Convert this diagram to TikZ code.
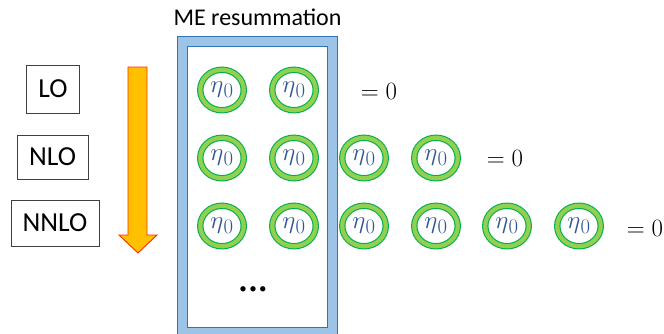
\documentclass[tikz,border=0pt]{standalone}
\usepackage{fontspec}
\setmainfont{Carlito}
\usetikzlibrary{shapes.geometric}
\definecolor{frameblue}{HTML}{9DC3E6}
\definecolor{edgeblue}{HTML}{2E75B6}
\definecolor{ringlight}{HTML}{92D050}
\definecolor{ringdark}{HTML}{00B050}
\definecolor{etablue}{HTML}{2F5597}
\definecolor{arroworange}{HTML}{FFC000}
\definecolor{arrowred}{HTML}{FF2A00}
\begin{document}
\begin{tikzpicture}[x=1pt,y=-1pt,
  lab/.style={draw=black!75,line width=0.8pt,inner sep=0pt,font=\fontsize{27.5}{27.5}\selectfont},
  ring/.style={ellipse,draw=ringdark,line width=1.1pt,double=ringlight,double distance=4.2pt,
    fill=white,minimum width=43.5pt,minimum height=40.5pt,inner sep=0pt,
    text=etablue,font=\fontsize{29}{29}\selectfont},
  zero/.style={inner sep=0pt,font=\fontsize{24}{24}\selectfont},
  title/.style={inner sep=0pt,font=\fontsize{24}{24}\selectfont}]
\clip (0,0) rectangle (664,333);
\fill[white] (0,0) rectangle (664,333);
% frame
\draw[edgeblue,fill=frameblue,line width=1pt] (177,36) rectangle (337,345);
\draw[edgeblue,fill=white,line width=1pt] (187,46) rectangle (327,327);
\node[title,anchor=base] (title) at (257.5,25) {ME resummation};
% order labels
\node[lab,minimum width=52.5pt,minimum height=48pt] (lo) at (53,89) {LO};
\node[lab,minimum width=71pt,minimum height=44pt] (nlo) at (52.5,157) {NLO};
\node[lab,minimum width=88pt,minimum height=46pt] (nnlo) at (55,223) {NNLO};
% block arrow
\draw[arrowred,fill=arroworange,line width=0.9pt,line join=miter]
  (128,67) -- (147,67) -- (147,235) -- (157,235) -- (138,253) -- (119,235) -- (128,235) -- cycle;
% rings
\foreach \r/\y/\n in {1/90/2,2/158/4,3/226/6}{
  \foreach \c/\x in {1/222,2/294,3/364,4/436,5/507,6/579}{
    \ifnum\c>\n\else
      \node[ring] (r\r c\c) at (\x,\y) {$\eta_{\mkern1mu 0}$};
    \fi
  }
}
\node[zero] (z1) at (379,91) {$=0$};
\node[zero] (z2) at (505,158) {$=0$};
\node[zero] (z3) at (645,228) {$=0$};
\node[inner sep=0pt,font=\fontsize{15}{15}\selectfont] (dots) at (253,290) {•\hspace{2.5pt}•\hspace{2.5pt}•};
\end{tikzpicture}
\end{document}
